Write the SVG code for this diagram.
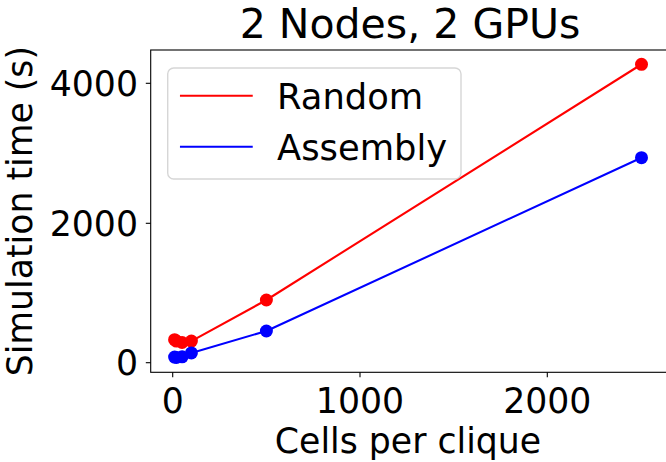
<svg xmlns="http://www.w3.org/2000/svg" width="666" height="462" viewBox="0 0 666 462">
<style>
  text { font-family: "DejaVu Sans", "Liberation Sans", sans-serif; fill: #000; }
  .tick { font-size: 34.7px; }
  .lab { font-size: 34.7px; }
  .leg { font-size: 35.3px; }
  .title { font-size: 41px; }
  .spine { stroke: #000; stroke-width: 1.1; fill: none; }
  .tk { stroke: #000; stroke-width: 1.1; }
  .red { stroke: #ff0000; stroke-width: 2.08; fill: none; stroke-linejoin: round; stroke-linecap: square; }
  .blue { stroke: #0000ff; stroke-width: 2.08; fill: none; stroke-linejoin: round; stroke-linecap: square; }
  .rdot { fill: #ff0000; }
  .bdot { fill: #0000ff; }
</style>
<rect x="0" y="0" width="666" height="462" fill="#fff"/>

<g id="title">
  <text class="title" x="410" y="38.4" text-anchor="middle">2 Nodes, 2 GPUs</text>
</g>

<g id="axes">
  <rect class="spine" x="150.7" y="50" width="518" height="322.3"/>
  <g id="xticks">
    <line class="tk" x1="172.7" y1="372.3" x2="172.7" y2="377.2"/>
    <line class="tk" x1="360" y1="372.3" x2="360" y2="377.2"/>
    <line class="tk" x1="547.3" y1="372.3" x2="547.3" y2="377.2"/>
    <text class="tick" x="172.7" y="413.3" text-anchor="middle">0</text>
    <text class="tick" x="360" y="413.3" text-anchor="middle">1000</text>
    <text class="tick" x="547.3" y="413.3" text-anchor="middle">2000</text>
  </g>
  <g id="yticks">
    <line class="tk" x1="145.8" y1="362.7" x2="150.7" y2="362.7"/>
    <line class="tk" x1="145.8" y1="223.3" x2="150.7" y2="223.3"/>
    <line class="tk" x1="145.8" y1="83.3" x2="150.7" y2="83.3"/>
    <text class="tick" x="138" y="375.3" text-anchor="end">0</text>
    <text class="tick" x="138" y="236" text-anchor="end">2000</text>
    <text class="tick" x="138" y="96" text-anchor="end">4000</text>
  </g>
  <text class="lab" x="408" y="453.3" text-anchor="middle">Cells per clique</text>
  <text class="lab" transform="translate(32,211.2) rotate(-90)" text-anchor="middle">Simulation time (s)</text>
</g>

<g id="connectors">
  <polyline id="random-line" class="red" points="174.6,339.7 176.4,341.1 182.1,342.5 191.4,341.1 266.4,300 641.5,64.3"/>
  <polyline id="assembly-line" class="blue" points="174.6,357.1 176.4,357.5 182.1,356.8 191.4,352.9 266.4,331 641.5,157.7"/>
</g>

<g id="random-points">
  <circle class="rdot" cx="174.6" cy="339.7" r="6.5"/>
  <circle class="rdot" cx="176.4" cy="341.1" r="6.5"/>
  <circle class="rdot" cx="182.1" cy="342.5" r="6.5"/>
  <circle class="rdot" cx="191.4" cy="341.1" r="6.5"/>
  <circle class="rdot" cx="266.4" cy="300" r="6.5"/>
  <circle class="rdot" cx="641.5" cy="64.3" r="6.5"/>
</g>
<g id="assembly-points">
  <circle class="bdot" cx="174.6" cy="357.1" r="6.5"/>
  <circle class="bdot" cx="176.4" cy="357.5" r="6.5"/>
  <circle class="bdot" cx="182.1" cy="356.8" r="6.5"/>
  <circle class="bdot" cx="191.4" cy="352.9" r="6.5"/>
  <circle class="bdot" cx="266.4" cy="331" r="6.5"/>
  <circle class="bdot" cx="641.5" cy="157.7" r="6.5"/>
</g>

<g id="legend">
  <rect x="167.7" y="68" width="293.3" height="111" rx="6" ry="6" fill="#fff" fill-opacity="0.8" stroke="#cccccc" stroke-opacity="0.8" stroke-width="1.4"/>
  <line class="red" x1="181" y1="95.7" x2="251.7" y2="95.7" stroke-linecap="butt"/>
  <line class="blue" x1="181" y1="146.7" x2="251.7" y2="146.7" stroke-linecap="butt"/>
  <text class="leg" x="277" y="108.5">Random</text>
  <text class="leg" x="277" y="159.5">Assembly</text>
</g>
</svg>
